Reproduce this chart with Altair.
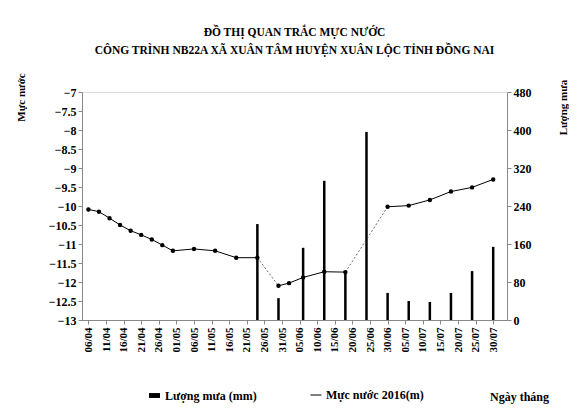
import altair as alt
import pandas as pd

# Water level (m) – day offset from 06/04/2016
level_days = [0, 3, 6, 9, 12, 15, 18, 21, 24, 30, 36, 42, 48, 54, 57, 61, 67, 73, 85, 91, 97, 103, 109, 115]
level_vals = [-10.09, -10.15, -10.32, -10.50, -10.65, -10.76, -10.88, -11.03, -11.18, -11.13, -11.18, -11.36,
              -11.36, -12.10, -12.03, -11.88, -11.73, -11.74, -10.02, -9.99, -9.84, -9.62, -9.51, -9.30]
# segments drawn faint/dotted in the original (start day of segment)
dotted_starts = [48, 73]

# Rainfall (mm)
rain_days = [48, 54, 61, 67, 73, 79, 85, 91, 97, 103, 109, 115]
rain_vals = [202, 46, 152, 293, 101, 396, 57, 40, 38, 57, 103, 154]

tick_labels = ["06/04", "11/04", "16/04", "21/04", "26/04", "01/05", "06/05", "11/05", "16/05", "21/05",
               "26/05", "31/05", "05/06", "10/06", "15/06", "20/06", "25/06", "30/06", "05/07", "10/07",
               "15/07", "20/07", "25/07", "30/07"]
tick_days = [5 * i for i in range(len(tick_labels))]

left_ticks = [-13 + 0.5 * i for i in range(13)]
right_ticks = [0, 80, 160, 240, 320, 400, 480]

title_lines = ["ĐỒ THỊ QUAN TRẮC MỰC NƯỚC", "CÔNG TRÌNH NB22A XÃ XUÂN TÂM HUYỆN XUÂN LỘC TỈNH ĐỒNG NAI"]

# solid runs (broken at dotted segments)
seg_ids = []
seg = 0
for i, d in enumerate(level_days):
    seg_ids.append(seg)
    if d in dotted_starts:
        seg += 1
level_df = pd.DataFrame({"day": level_days, "level": level_vals, "seg": seg_ids, "s": "Mực nước 2016(m)"})

dot_rows = []
for k, d in enumerate(dotted_starts):
    i = level_days.index(d)
    dot_rows.append({"day": level_days[i], "level": level_vals[i], "pair": k})
    dot_rows.append({"day": level_days[i + 1], "level": level_vals[i + 1], "pair": k})
dot_df = pd.DataFrame(dot_rows)

rain_df = pd.DataFrame({"day": rain_days, "rain": rain_vals, "s": "Lượng mưa (mm)"})

FONT = "Liberation Serif"
label_expr = "[" + ",".join("'%s'" % t for t in tick_labels) + "][round(datum.value/5)]"

x_axis = alt.Axis(
    values=tick_days, labelExpr=label_expr, labelAngle=270, labelAlign="right", labelBaseline="middle",
    labelFont=FONT, labelFontWeight="bold", labelFontSize=11, labelPadding=3, labelOverlap=False,
    tickSize=4, grid=False, title="Ngày tháng", titleFont=FONT, titleFontWeight="bold",
    titleFontSize=12, titleX=437, titleY=76, titleAlign="center", titleBaseline="middle",
)
x_enc = alt.X("day:Q", scale=alt.Scale(domain=[-0.4, 117.5], nice=False, zero=False), axis=x_axis)

left_axis = alt.Axis(
    orient="left", values=left_ticks, grid=False, tickSize=4, format="~g", labelOverlap=False,
    labelFont=FONT, labelFontWeight="bold", labelFontSize=12,
    title="Mực nước", titleFont=FONT, titleFontWeight="bold", titleFontSize=11,
    titleAngle=270, titleX=-61, titleY=5, titleAlign="center", titleBaseline="middle",
)
left_y = alt.Y("level:Q", scale=alt.Scale(domain=[-13, -7], nice=False, zero=False), axis=left_axis)

bars = alt.Chart(rain_df).mark_bar(size=2.5).encode(
    x=x_enc,
    y=alt.Y(
        "rain:Q",
        scale=alt.Scale(domain=[0, 480], nice=False),
        axis=alt.Axis(
            orient="right", values=right_ticks, grid=False, tickSize=4, labelOverlap=False,
            labelFont=FONT, labelFontWeight="bold", labelFontSize=12,
            title="Lượng mưa", titleFont=FONT, titleFontWeight="bold", titleFontSize=11,
            titleAngle=270, titleX=56, titleY=15, titleAlign="center", titleBaseline="middle",
        ),
    ),
    color=alt.Color(
        "s:N",
        scale=alt.Scale(domain=["Lượng mưa (mm)"], range=["black"]),
        legend=alt.Legend(
            title=None, orient="none", legendX=66, legendY=297,
            symbolType="M-1,-0.45H1V0.45H-1Z", symbolSize=120,
            labelFont=FONT, labelFontWeight="bold", labelFontSize=12,
        ),
    ),
)

dotted = alt.Chart(dot_df).mark_line(strokeWidth=0.8, strokeDash=[2, 2], color="#444").encode(
    x=x_enc, y=left_y, detail="pair:N"
)

line = alt.Chart(level_df).mark_line(
    strokeWidth=1, point=alt.OverlayMarkDef(filled=True, size=6, color="black")
).encode(
    x=x_enc,
    y=left_y,
    detail="seg:N",
    stroke=alt.Stroke(
        "s:N",
        scale=alt.Scale(domain=["Mực nước 2016(m)"], range=["black"]),
        legend=alt.Legend(
            title=None, orient="none", legendX=228, legendY=297,
            symbolType="stroke", symbolSize=120, symbolStrokeWidth=1,
            labelFont=FONT, labelFontWeight="bold", labelFontSize=12,
        ),
    ),
)

level_layer = alt.layer(dotted, line)

chart = alt.layer(bars, level_layer).resolve_scale(
    y="independent", color="independent"
).properties(
    width=425,
    height=228,
    title=alt.TitleParams(
        text=title_lines, font=FONT, fontWeight="bold", fontSize=11.5, anchor="middle",
        lineHeight=18, offset=16, color="black",
    ),
    autosize=alt.AutoSizeParams(type="none"),
    padding={"left": 74, "top": 84, "right": 62, "bottom": 84},
).configure_view(
    stroke="black", strokeWidth=1
).configure_axis(
    domainColor="black", tickColor="black", labelColor="black", titleColor="black"
).configure_legend(
    labelColor="black"
).configure(background="white")

chart.save("out.html", embed_options={"renderer": "svg", "actions": False})
